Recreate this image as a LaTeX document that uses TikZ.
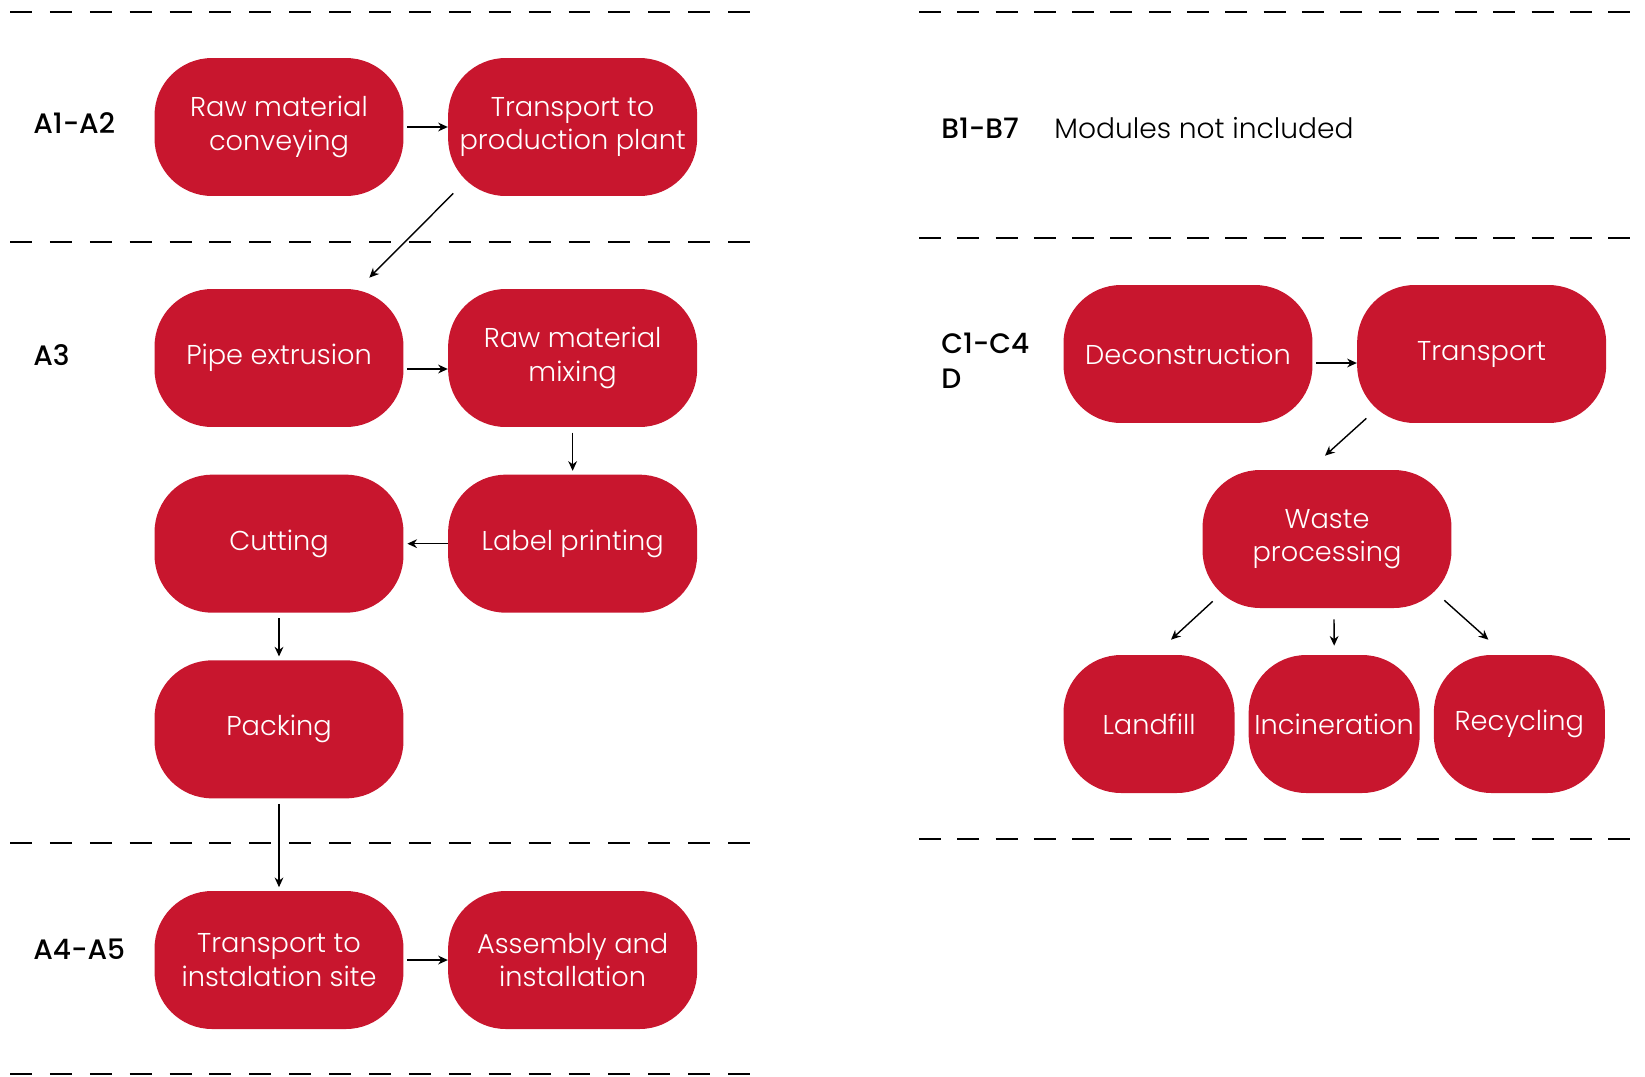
\documentclass[tikz,border=0pt]{standalone}
\usepackage{fontspec}
\setmainfont{Poppins}[UprightFont={* Light}, BoldFont={* Medium}]
\usetikzlibrary{positioning,arrows.meta}
\definecolor{stagered}{RGB}{200,22,46}
\tikzset{
  stage/.style={rectangle, rounded corners=1.15cm, fill=stagered, text=white,
    minimum width=4.98cm, minimum height=2.76cm, inner sep=0pt, align=center,
    font=\fontsize{15.5}{19}\selectfont},
  endstage/.style={stage, minimum width=3.42cm},
  module/.style={anchor=west, align=left, inner sep=0pt, font=\fontsize{16}{20}\selectfont\bfseries},
  divider/.style={dash pattern=on 0.44cm off 0.358cm, line width=1.2pt},
  rdivider/.style={divider, dash pattern=on 0.44cm off 0.326cm},
  flow/.style={-{Stealth[length=5.5pt,width=5pt]}, line width=0.8pt}
}
\begin{document}
\begin{tikzpicture}[x=0.02cm, y=-0.02cm, node distance=0.88cm]
  \useasboundingbox (0,0) rectangle (1645,1076);
  % section dividers
  \foreach \y in {12,242,843,1074}
    \draw[divider] (10,\y) -- (750,\y);
  \foreach \y in {12,238,839}
    \draw[rdivider] (919,\y) -- (1631,\y);

  % A1-A2
  \node[module] (a12) at (33,123) {A1-A2};
  \node[stage] (conv) at (279,127) {Raw material\\conveying};
  \node[stage, right=of conv] (plant) {Transport to\\production plant};

  % A3
  \node[module] (a3) at (33,355) {A3};
  \node[stage] (extr) at (279,358) {Pipe extrusion};
  \node[stage, right=of extr] (mix) {Raw material\\mixing};
  \node[stage, below=0.94cm of mix] (print) {Label printing};
  \node[stage, left=of print] (cut) {Cutting};
  \node[stage, below=0.94cm of cut] (pack) {Packing};

  % A4-A5
  \node[module] (a45) at (33,949) {A4-A5};
  \node[stage] (site) at (279,960) {Transport to\\instalation site};
  \node[stage, right=of site] (assy) {Assembly and\\installation};

  % B1-B7
  \node[module] (b17) at (941,128) {B1-B7};
  \node[anchor=west, inner sep=0pt, font=\fontsize{16}{20}\selectfont] (excl) at (1054,128) {Modules not included};

  % C1-C4, D
  \node[module] (c14) at (941,361) {C1-C4\\D};
  \node[stage] (decon) at (1188,354) {Deconstruction};
  \node[stage, right=of decon] (trans) {Transport};
  \node[stage] (waste) at (1327,539) {Waste\\processing};
  \node[endstage] (fill) at (1149,724) {Landfill};
  \node[endstage, right=0.27cm of fill] (burn) {Incineration};
  \node[endstage, right=0.27cm of burn] (recyc) {Recycling};

  % flows
  \draw[flow, shorten <=2pt] (conv.east) -- (plant.west);
  \draw[flow] ([shift={(5.5,-3)}]plant.south west) -- ([shift={(-34.5,-11)}]extr.north east);
  \draw[flow, shorten <=2pt] ([shift={(0,11)}]extr.east) -- ([shift={(0,11)}]mix.west);
  \draw[flow, shorten <=3pt, shorten >=2pt] (mix.south) -- (print.north);
  \draw[flow, shorten >=2pt] (print.west) -- (cut.east);
  \draw[flow, shorten <=3pt, shorten >=2pt] (cut.south) -- (pack.north);
  \draw[flow, shorten <=3pt, shorten >=2pt] (pack.south) -- (site.north);
  \draw[flow, shorten <=2pt] (site.east) -- (assy.west);
  \draw[flow, shorten <=2pt] ([shift={(0,9)}]decon.east) -- ([shift={(0,9)}]trans.west);
  \draw[flow] ([shift={(9.5,-5)}]trans.south west) -- ([shift={(-2,-14)}]waste.north);
  \draw[flow] ([shift={(10.5,-7)}]waste.south west) -- ([shift={(22,-15)}]fill.north);
  \draw[flow] ([shift={(7,11)}]waste.south) -- ([shift={(0,-9)}]burn.north);
  \draw[flow] ([shift={(-7.5,-8)}]waste.south east) -- ([shift={(-31,-15)}]recyc.north);
\end{tikzpicture}
\end{document}
